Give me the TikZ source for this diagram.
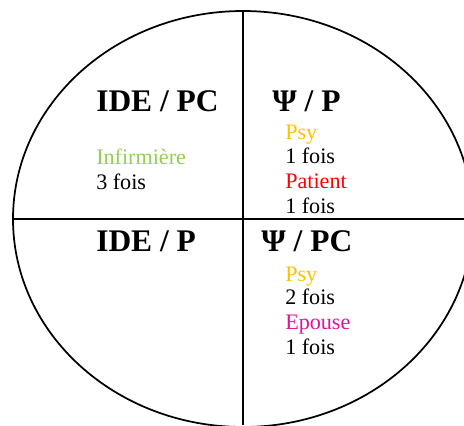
\documentclass[tikz,border=0pt]{standalone}
\usepackage{xcolor}
\usepackage{fontspec}
\setmainfont{Liberation Serif}
\usepackage{tikz}
\usetikzlibrary{positioning}

\definecolor{infgreen}{RGB}{146,208,80}
\definecolor{psyyellow}{RGB}{255,192,0}
\definecolor{patred}{RGB}{255,0,0}
\definecolor{epmagenta}{RGB}{224,18,155}

\begin{document}
\begin{tikzpicture}[
    x=0.75pt, y=-0.75pt,
    head/.style={anchor=base west, inner sep=0pt, font=\fontsize{23.6}{28}\selectfont\bfseries},
    txt/.style={anchor=base west, inner sep=0pt, font=\fontsize{16.6}{19}\selectfont},
    axis/.style={line width=1.3pt}
]
\useasboundingbox (0,0) rectangle (464,425);

% ellipse and quadrants
\coordinate (ctr) at (243,219);
\coordinate (top) at (243,11);
\coordinate (bot) at (243,425);
\coordinate (lft) at (13,219);
\coordinate (rgt) at (464,219);
\draw[axis] (ctr) ellipse [x radius=230, y radius=208];
\draw[axis] (top) -- (bot);
\draw[axis] (lft) -- (rgt);

% top left
\node[head] (idepc) at (96,111) {IDE / PC};
\node[txt, text=infgreen] (inf) at (96,164) {Infirmière};
\node[txt] (inf3) at (96,189) {3 fois};

% top right
\node[head] (psip) at (272,111) {Ψ / P};
\node[txt, text=psyyellow] (psy1) at (285,139) {Psy};
\node[txt] (psy1n) at (285,163.5) {1 fois};
\node[txt, text=patred] (pat) at (285,188.5) {Patient};
\node[txt] (patn) at (285,213) {1 fois};

% bottom left
\node[head] (idep) at (96,251) {IDE / P};

% bottom right
\node[head] (psipc) at (261,251) {Ψ / PC};
\node[txt, text=psyyellow] (psy2) at (285,281) {Psy};
\node[txt] (psy2n) at (285,304) {2 fois};
\node[txt, text=epmagenta] (ep) at (285,329) {Epouse};
\node[txt] (epn) at (285,354) {1 fois};
\end{tikzpicture}
\end{document}
